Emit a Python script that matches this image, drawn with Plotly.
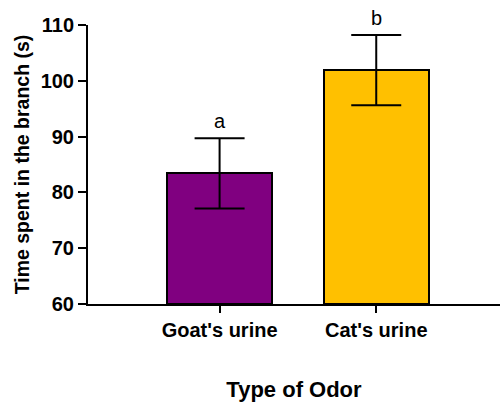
import plotly.graph_objects as go

categories = ["Goat's urine", "Cat's urine"]
means = [83.4, 101.9]
sem = [6.3, 6.3]
letters = ["a", "b"]
colors = ["#800080", "#FFC000"]

fig = go.Figure()
fig.add_trace(go.Bar(
    x=[0, 1], y=[m - 60 for m in means], base=60,
    width=0.67,
    marker=dict(color=colors, line=dict(color="black", width=2)),
    error_y=dict(type="data", array=sem, visible=True, color="black", thickness=2, width=25),
    showlegend=False,
))

for i, (m, e, t) in enumerate(zip(means, sem, letters)):
    fig.add_annotation(x=i, y=m + e, text=t, showarrow=False, yanchor="bottom", yshift=4,
                       font=dict(family="Liberation Sans, Arial", size=20, color="black"))

fig.update_layout(
    width=501, height=406,
    margin=dict(l=88, r=1, t=25, b=102, autoexpand=False),
    plot_bgcolor="white", paper_bgcolor="white",
    font=dict(family="Liberation Sans, Arial", color="black"),
    bargap=0,
)
fig.update_xaxes(
    range=[-0.84, 1.79], automargin=False,
    tickmode="array", tickvals=[0, 1], ticktext=categories,
    showline=True, linecolor="black", linewidth=2,
    ticks="outside", ticklen=7, tickwidth=2, tickcolor="black",
    tickfont=dict(size=20, family="Liberation Sans, Arial", weight="bold"),
    title=dict(text="<b>Type of Odor</b>", font=dict(size=22), standoff=42),
    showgrid=False, zeroline=False,
)
fig.update_yaxes(
    range=[60, 110], tickvals=[60, 70, 80, 90, 100, 110], automargin=False,
    showline=True, linecolor="black", linewidth=2,
    ticks="outside", ticklen=8, tickwidth=2, tickcolor="black",
    tickfont=dict(size=20, family="Liberation Sans, Arial", weight="bold"),
    title=dict(text="<b>Time spent in the branch (s)</b>", font=dict(size=19.5), standoff=6),
    showgrid=False, zeroline=False,
)
fig.write_html("out.html", config={"displayModeBar": False},
               post_script="document.body.style.margin='0';")
